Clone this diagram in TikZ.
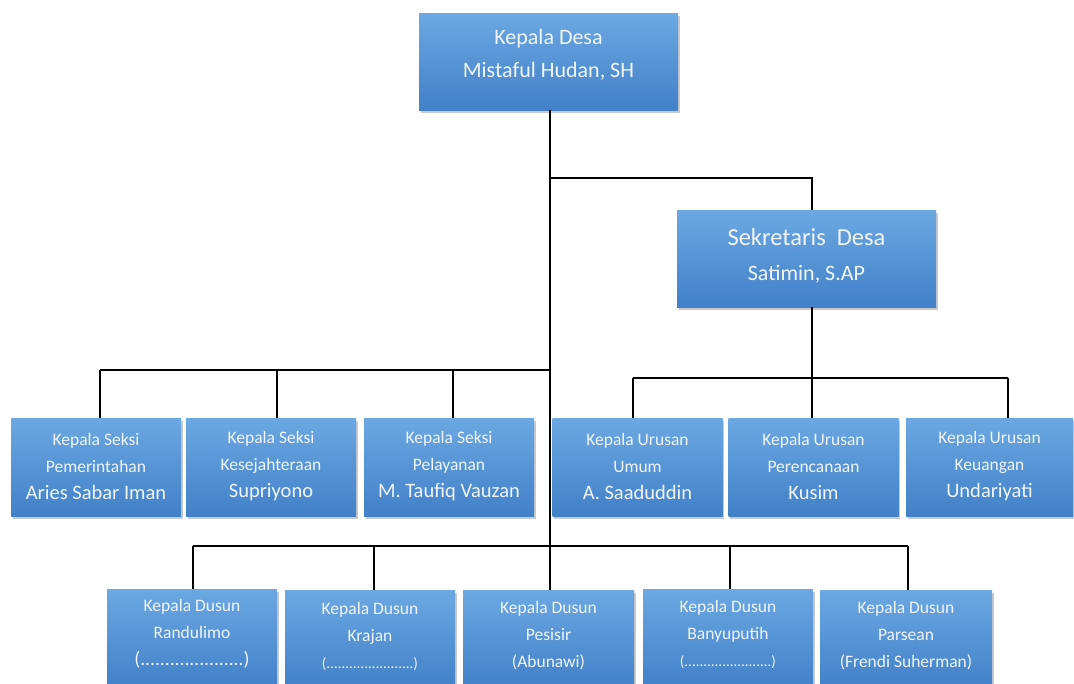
\documentclass[tikz,border=0pt]{standalone}
\usepackage{fontspec}
\setmainfont{Carlito}
\usetikzlibrary{shadows}
\definecolor{boxtop}{RGB}{108,168,226}
\definecolor{boxbot}{RGB}{66,128,200}
\definecolor{boxtxt}{RGB}{240,245,251}
\newcommand\lineB[1]{{\fontsize{20.5}{27}\selectfont #1}}
\begin{document}
\begin{tikzpicture}[x=1pt,y=-1pt,
  orgbox/.style={rectangle, minimum width=#1, top color=boxtop, bottom color=boxbot, draw=none,
     drop shadow={shadow xshift=1.5pt, shadow yshift=-3pt, opacity=0.35, fill=black!60}, inner sep=0pt},
  orgbox/.default=170pt,
  txt/.style={text=boxtxt, align=center, inner sep=0pt, font=\fontsize{17.5}{27}\selectfont},
  conn/.style={line width=2.8pt, black}]
\useasboundingbox (0,0) rectangle (1074,683);
\clip (0,0) rectangle (1074,683);
\fill[white] (0,0) rectangle (1074,683);

% top
\node[orgbox=259pt, minimum height=97pt] (kd) at (548.5,61.5) {};
\node[txt, font=\fontsize{22}{33}\selectfont] (kdt) at (548.5,55) {Kepala Desa\\Mistaful Hudan, SH};
% sekretaris
\node[orgbox=259pt, minimum height=97pt] (sd) at (806.5,258.5) {};
\node[txt, font=\fontsize{22}{35}\selectfont] (sdt) at (806.5,256) {{\fontsize{24.5}{35}\selectfont Sekretaris\ \ Desa}\\Satimin, S.AP};

% seksi
\node[orgbox, minimum height=98pt] (s1) at (96,467) {};
\node[txt] (s1t) at (96,466) {Kepala Seksi\\Pemerintahan\\\lineB{Aries Sabar Iman}};
\node[orgbox, minimum height=98pt] (s2) at (271,467) {};
\node[txt] (s2t) at (271,466) {Kepala Seksi\\Kesejahteraan\\\lineB{Supriyono}};
\node[orgbox, minimum height=98pt] (s3) at (449,467) {};
\node[txt] (s3t) at (449,466) {Kepala Seksi\\Pelayanan\\\lineB{M. Taufiq Vauzan}};
% urusan
\node[orgbox, minimum height=98pt] (u1) at (637.5,467) {};
\node[txt] (u1t) at (637.5,466) {Kepala Urusan\\Umum\\\lineB{A. Saaduddin}};
\node[orgbox, minimum height=98pt] (u2) at (813.5,467) {};
\node[txt] (u2t) at (813.5,466) {Kepala Urusan\\Perencanaan\\\lineB{Kusim}};
\node[orgbox=167pt, minimum height=98pt] (u3) at (989.5,467) {};
\node[txt] (u3t) at (989.5,466) {Kepala Urusan\\Keuangan\\\lineB{Undariyati}};

% dusun
\node[orgbox, minimum height=98pt] (d1) at (192,638) {};
\node[txt] (d1t) at (192,634) {Kepala Dusun\\Randulimo\\{\fontsize{19.5}{27}\selectfont (.....................)}};
\node[orgbox, minimum height=98pt] (d2) at (370,639) {};
\node[txt] (d2t) at (370,636) {Kepala Dusun\\Krajan\\{\fontsize{15}{27}\selectfont (.......................)}};
\node[orgbox=171pt, minimum height=98pt] (d3) at (548.5,639) {};
\node[txt] (d3t) at (548.5,636) {Kepala Dusun\\Pesisir\\(Abunawi)};
\node[orgbox, minimum height=98pt] (d4) at (728,638) {};
\node[txt] (d4t) at (728,634) {Kepala Dusun\\Banyuputih\\{\fontsize{15}{27}\selectfont (.......................)}};
\node[orgbox=172pt, minimum height=98pt] (d5) at (906,639) {};
\node[txt] (d5t) at (906,636) {Kepala Dusun\\Parsean\\(Frendi Suherman)};

% connector coordinates
\coordinate (trunk) at (550,110);
\coordinate (jSek) at (550,178);
\coordinate (jSeksi) at (550,370);
\coordinate (jDusun) at (550,546);
\coordinate (sekX) at (812,0);
\coordinate (busU) at (812,378);
\coordinate (xu1) at (633,0);
\coordinate (xu3) at (1008,0);
\coordinate (xs1) at (100,0);
\coordinate (xs2) at (277,0);
\coordinate (xs3) at (453,0);
\coordinate (xd1) at (193,0);
\coordinate (xd2) at (374,0);
\coordinate (xd4) at (730,0);
\coordinate (xd5) at (908,0);

% connectors
\draw[conn] (kd.south -| trunk) -- (d3.north -| trunk);
\draw[conn] (jSek) -- (jSek -| sekX) -- (sd.north -| sekX);
\draw[conn] (sd.south -| sekX) -- (busU);
\draw[conn] (busU -| xu1) -- (busU -| xu3);
\draw[conn] (busU -| xu1) -- (u1.north -| xu1);
\draw[conn] (busU) -- (u2.north -| busU);
\draw[conn] (busU -| xu3) -- (u3.north -| xu3);
\draw[conn] (jSeksi) -- (jSeksi -| xs1);
\draw[conn] (jSeksi -| xs1) -- (s1.north -| xs1);
\draw[conn] (jSeksi -| xs2) -- (s2.north -| xs2);
\draw[conn] (jSeksi -| xs3) -- (s3.north -| xs3);
\draw[conn] (jDusun -| xd1) -- (jDusun -| xd5);
\draw[conn] (jDusun -| xd1) -- (d1.north -| xd1);
\draw[conn] (jDusun -| xd2) -- (d2.north -| xd2);
\draw[conn] (jDusun -| xd4) -- (d4.north -| xd4);
\draw[conn] (jDusun -| xd5) -- (d5.north -| xd5);
\end{tikzpicture}
\end{document}
